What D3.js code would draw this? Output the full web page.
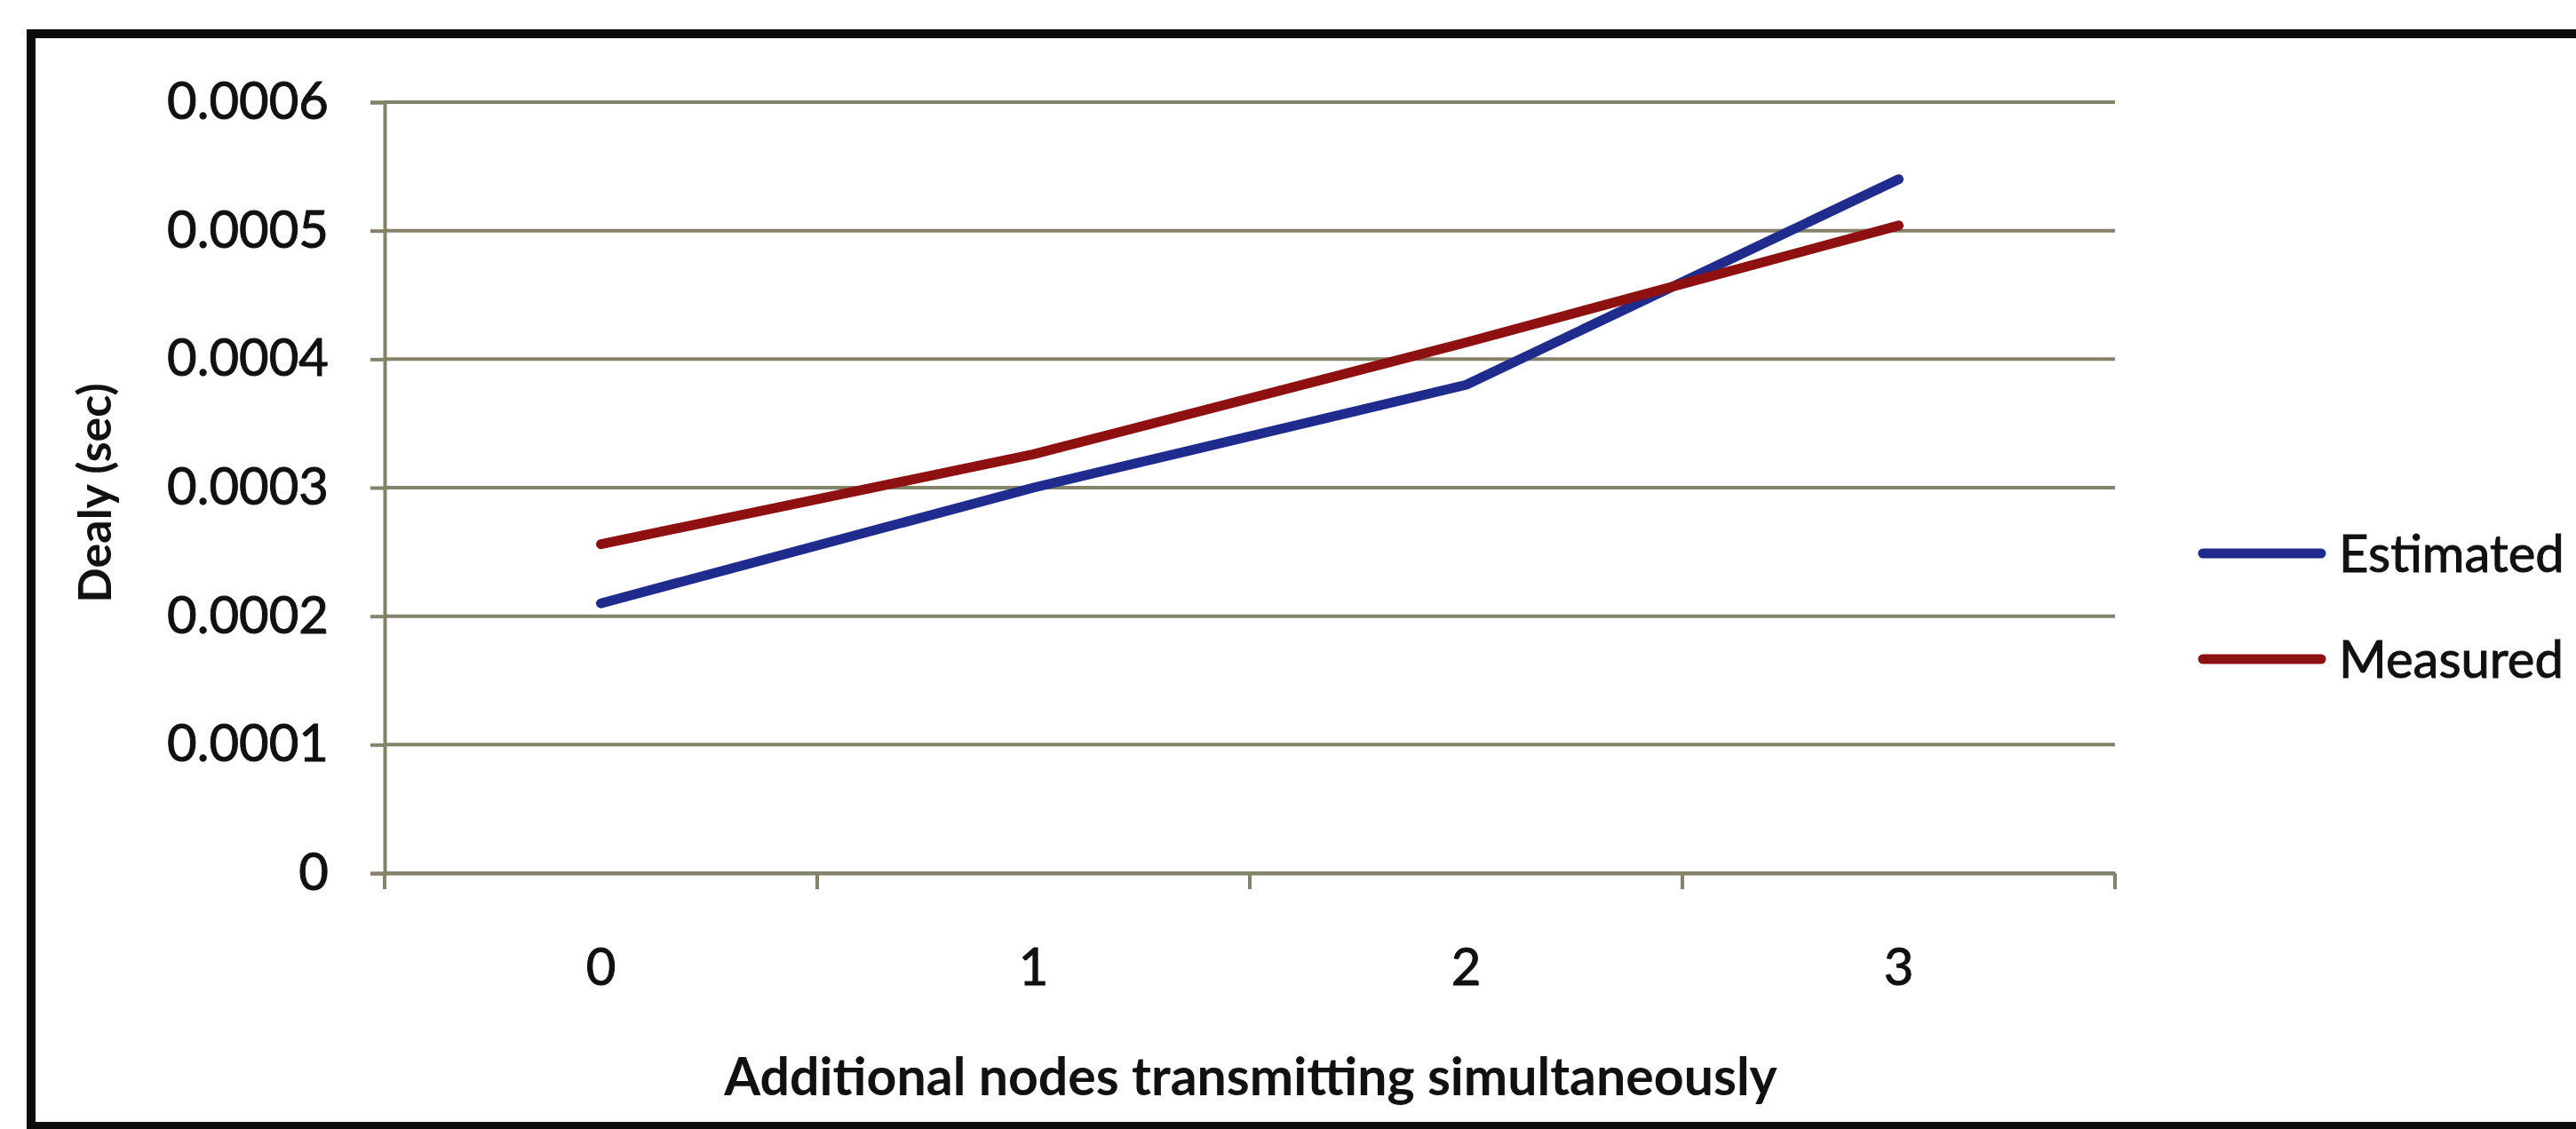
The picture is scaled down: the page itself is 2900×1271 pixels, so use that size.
<!DOCTYPE html>
<html>
<head>
<meta charset="utf-8">
<script src="https://cdn.jsdelivr.net/npm/d3@7"></script>
<style>
	body { margin:0; background:#fff; }
	#container { width:2900px; height:1271px; }
	text { font-family: Lato, "Open Sans", sans-serif; fill:#111; }
</style>
</head>
<body>
<div id="container"></div>
<script>

// chart values
var categories = ["0", "1", "2", "3"];
var estimated = [0.00021, 0.0003, 0.00038, 0.00054];
var measured = [0.000256, 0.000326, 0.000413, 0.000504];
var seriesNames = ["Estimated", "Measured"];
var yTicks = [0, 0.0001, 0.0002, 0.0003, 0.0004, 0.0005, 0.0006];
var yTickLabels = ["0", "0.0001", "0.0002", "0.0003", "0.0004", "0.0005", "0.0006"];
var xTitle = "Additional nodes transmitting simultaneously";
var yTitle = "Dealy (sec)";

var colors = ["#1f2c8e", "#8e1010"];
var gridColor = "#85826a";

function render() {
	var width = 2900, height = 1271;
	var plot = {left:433, right:2381, top:115, bottom:983};

	var svg = d3.select("#container")
		.append('svg')
		.attr('width', width)
		.attr('height', height);

	// scanned frame round the chart
	svg.append('rect')
		.attr('x', 35).attr('y', 38)
		.attr('width', 2900).attr('height', 1230)
		.attr('fill', '#fff')
		.attr('stroke', '#0c0c0c')
		.attr('stroke-width', 10);

	var x = d3.scaleBand()
		.domain(categories)
		.range([plot.left, plot.right])
		.padding(0);

	var y = d3.scaleLinear()
		.domain([0, 0.0006])
		.range([plot.bottom, plot.top]);

	// gridlines
	svg.append('g')
		.selectAll('line')
		.data(yTicks)
		.enter()
		.append('line')
		.attr('x1', plot.left)
		.attr('x2', plot.right)
		.attr('y1', d => y(d))
		.attr('y2', d => y(d))
		.attr('stroke', gridColor)
		.attr('stroke-width', 4);

	// y axis
	var yAxis = d3.axisLeft(y)
		.tickValues(yTicks)
		.tickFormat((d, i) => yTickLabels[i])
		.tickSize(16)
		.tickPadding(47);

	var gy = svg.append('g')
		.attr('transform', 'translate(' + plot.left + ',0)')
		.call(yAxis);
	gy.select('.domain').attr('stroke', gridColor).attr('stroke-width', 4);
	gy.selectAll('.tick line').attr('stroke', gridColor).attr('stroke-width', 4);
	gy.selectAll('.tick text')
		.attr('font-size', 58)
		.attr('fill', '#111')
		.attr('stroke', '#111')
		.attr('stroke-width', 1);

	// x axis, labels centred on categories
	var xAxis = d3.axisBottom(x)
		.tickSize(0)
		.tickPadding(85);

	var gx = svg.append('g')
		.attr('transform', 'translate(0,' + plot.bottom + ')')
		.call(xAxis);
	gx.select('.domain').attr('stroke', gridColor).attr('stroke-width', 4);
	gx.selectAll('.tick text')
		.attr('font-size', 58)
		.attr('fill', '#111')
		.attr('stroke', '#111')
		.attr('stroke-width', 1);

	// tick marks between categories
	var bounds = categories.map(c => x(c)).concat([x(categories[categories.length - 1]) + x.bandwidth()]);
	gx.selectAll('.bound')
		.data(bounds)
		.enter()
		.append('line')
		.attr('class', 'bound')
		.attr('x1', d => d)
		.attr('x2', d => d)
		.attr('y1', 0)
		.attr('y2', 18)
		.attr('stroke', gridColor)
		.attr('stroke-width', 4);

	// series lines
	var line = d3.line()
		.x((d, i) => x(categories[i]) + x.bandwidth() / 2)
		.y(d => y(d));

	[estimated, measured].forEach((s, k) => {
		svg.append('path')
			.datum(s)
			.attr('d', line)
			.attr('fill', 'none')
			.attr('stroke', colors[k])
			.attr('stroke-width', 11)
			.attr('stroke-linecap', 'round')
			.attr('stroke-linejoin', 'round');
	});

	// axis titles
	svg.append('text')
		.attr('x', 1408)
		.attr('y', 1233)
		.attr('text-anchor', 'middle')
		.attr('font-size', 59)
		.attr('font-weight', 'bold')
		.text(xTitle);

	svg.append('text')
		.attr('transform', 'translate(125,555) rotate(-90)')
		.attr('text-anchor', 'middle')
		.attr('font-size', 52)
		.attr('font-weight', 'bold')
		.text(yTitle);

	// legend
	var legend = svg.append('g')
		.selectAll('g')
		.data(seriesNames)
		.enter()
		.append('g')
		.attr('transform', (d, i) => 'translate(2480,' + (623 + i * 119) + ')');

	legend.append('line')
		.attr('x1', 0)
		.attr('x2', 133)
		.attr('stroke', (d, i) => colors[i])
		.attr('stroke-width', 11)
		.attr('stroke-linecap', 'round');

	legend.append('text')
		.attr('x', 153)
		.attr('dy', '0.36em')
		.attr('font-size', 58)
		.attr('stroke', '#111')
		.attr('stroke-width', 1)
		.text(d => d);
}

render();
</script>
</body>
</html>
